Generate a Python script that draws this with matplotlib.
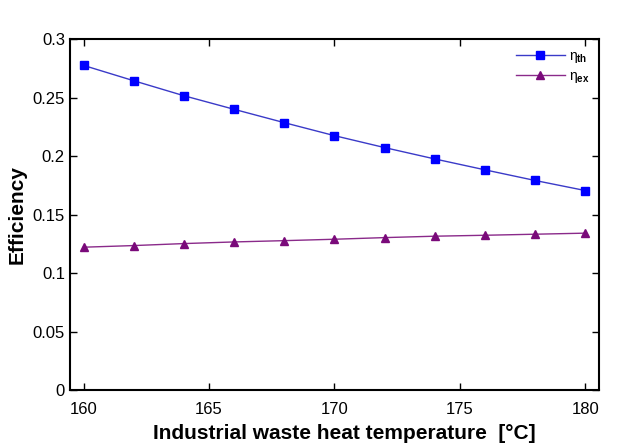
import matplotlib
matplotlib.use('Agg')
import matplotlib.pyplot as plt

# temperature [°C]
temps = [160, 162, 164, 166, 168, 170, 172, 174, 176, 178, 180]
# thermal efficiency
eta_th = [0.2777, 0.2646, 0.2518, 0.2402, 0.2288, 0.2177, 0.2075, 0.1978, 0.1885, 0.1794, 0.1708]
# exergy efficiency
eta_ex = [0.1224, 0.1238, 0.1255, 0.1269, 0.1280, 0.1292, 0.1306, 0.1318, 0.1326, 0.1335, 0.1344]

xticks = [160, 165, 170, 175, 180]
yticks = [0, 0.05, 0.1, 0.15, 0.2, 0.25, 0.3]
ytick_labels = ['0', '0.05', '0.1', '0.15', '0.2', '0.25', '0.3']

plt.rcParams['font.family'] = ['Liberation Sans', 'DejaVu Sans']
plt.rcParams['mathtext.fontset'] = 'custom'
plt.rcParams['mathtext.rm'] = 'Liberation Sans'
plt.rcParams['mathtext.it'] = 'Liberation Sans'
plt.rcParams['mathtext.bf'] = 'Liberation Sans:bold'

fig = plt.figure(figsize=(6.4, 4.44), dpi=100)
ax = fig.add_axes([0.109, 0.1205, 0.827, 0.791])

ax.plot(temps, eta_th, color='#3a3ac8', lw=1, marker='s', ms=6,
        mfc='#0000ff', mec='#0000ff', label=r'$\eta_{\mathbf{th}}$')
ax.plot(temps, eta_ex, color='#8a2a8a', lw=1, marker='^', ms=6,
        mfc='#7a0a7a', mec='#7a0a7a', label=r'$\eta_{\mathbf{ex}}$')

ax.set_xlim(159.45, 180.55)
ax.set_ylim(0, 0.3)
ax.set_xticks(xticks)
ax.set_yticks(yticks)
ax.set_yticklabels(ytick_labels)
ax.tick_params(direction='in', top=True, right=True, labelsize=12, length=5, width=1)
ax.tick_params(axis='x', pad=8)
for sp in ax.spines.values():
    sp.set_linewidth(1.5)

ax.set_xlabel('Industrial waste heat temperature  [°C]', fontsize=15, fontweight='bold')
ax.xaxis.set_label_coords(0.518, -0.095)
ax.set_ylabel('Efficiency', fontsize=15, fontweight='bold', labelpad=4)

ax.legend(loc='upper right', frameon=False, fontsize=10, handlelength=3.5,
          borderaxespad=0.3, handletextpad=0.3, labelspacing=0.3)

fig.savefig('out.png', dpi=100)
